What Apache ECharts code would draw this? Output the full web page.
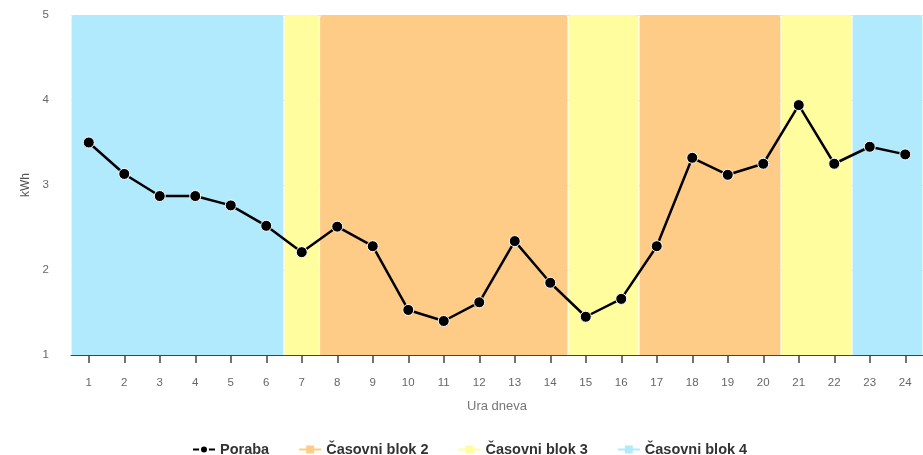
<!DOCTYPE html>
<html><head><meta charset="utf-8">
<script src="https://cdn.jsdelivr.net/npm/echarts@6/dist/echarts.min.js"></script>
<style>html,body{margin:0;padding:0;background:#fff}#c{width:923px;height:455px}</style>
</head><body><div id="c"></div>
<script>
const hours = ['1','2','3','4','5','6','7','8','9','10','11','12','13','14','15','16','17','18','19','20','21','22','23','24'];
const poraba = [3.50,3.13,2.87,2.87,2.76,2.52,2.21,2.51,2.28,1.53,1.40,1.62,2.34,1.85,1.45,1.66,2.28,3.32,3.12,3.25,3.94,3.25,3.45,3.36];
const hourBlock = [4,4,4,4,4,4,3,2,2,2,2,2,2,2,3,3,2,2,2,2,3,3,4,4];
const blockNames = {2:'Časovni blok 2',3:'Časovni blok 3',4:'Časovni blok 4'};
const blockColors = {2:'#fecc87',3:'#fffd9d',4:'#b1e9fd'};
const yMin = 1, yMax = 5;

function rangesFor(b){
  const out=[]; let s=-1;
  for(let i=0;i<hourBlock.length;i++){
    if(hourBlock[i]===b){ if(s<0) s=i; }
    else if(s>=0){ out.push([s,i-1]); s=-1; }
  }
  if(s>=0) out.push([s,hourBlock.length-1]);
  return out;
}
const FONT='Liberation Sans, Arial, sans-serif';
const bandSeries = [2,3,4].map(b=>({name:blockNames[b], type:'custom', z:1,
    data: rangesFor(b), encode:{x:[0,1]},
    renderItem:function(params, api){
      const s = api.coord([api.value(0), yMax]);
      const e = api.coord([api.value(1), yMin]);
      const bw = api.size([1,0])[0];
      const x = s[0]-bw/2+0.6, w = e[0]-s[0]+bw-1.2;
      return {type:'rect', shape:{x:x,y:s[1],width:w,height:e[1]-s[1],r:[3,3,0,0]},
        style:{fill:blockColors[b]}};
    }, silent:true}));
const legendSeries = [2,3,4].map(b=>({name:blockNames[b], type:'line', data:[], symbol:'rect',
   itemStyle:{color:blockColors[b]}, lineStyle:{color:blockColors[b], width:2}}));
const porabaSeries = {name:'Poraba', type:'line', data:poraba, z:5, symbol:'circle', symbolSize:11,
  itemStyle:{color:'#000', borderColor:'#fff', borderWidth:1},
  lineStyle:{color:'#000', width:2.5}};
const allSeries = [porabaSeries].concat(legendSeries, bandSeries);

const chart = echarts.init(document.getElementById('c'));
chart.setOption({
  animation:false,
  textStyle:{fontFamily:FONT},
  grid:{left:71, right:0, top:15, bottom:100},
  legend:{top:437, left:187, itemGap:29, itemWidth:22, itemHeight:10,
    data:['Poraba','Časovni blok 2','Časovni blok 3','Časovni blok 4'],
    textStyle:{fontFamily:FONT, fontSize:14.5, fontWeight:'bold', color:'#333'}},
  xAxis:{type:'category', data:hours, boundaryGap:true, z:10,
    name:'Ura dneva', nameLocation:'middle', nameGap:45,
    nameTextStyle:{color:'#777', fontSize:13},
    axisLine:{show:true, lineStyle:{color:'#444', width:1}},
    axisTick:{show:true, interval:0, alignWithLabel:true, length:8, lineStyle:{color:'#444', width:1.5}},
    axisLabel:{color:'#666', fontSize:11.5, margin:22, interval:0}},
  yAxis:{type:'value', min:yMin, max:yMax, interval:1,
    name:'kWh', nameLocation:'middle', nameGap:38,
    nameTextStyle:{color:'#555', fontSize:12},
    axisLine:{show:false}, axisTick:{show:false},
    axisLabel:{color:'#666', fontSize:11.5, margin:22},
    splitLine:{lineStyle:{color:'#e6e6e6'}}},
  series: allSeries
});
</script></body></html>
